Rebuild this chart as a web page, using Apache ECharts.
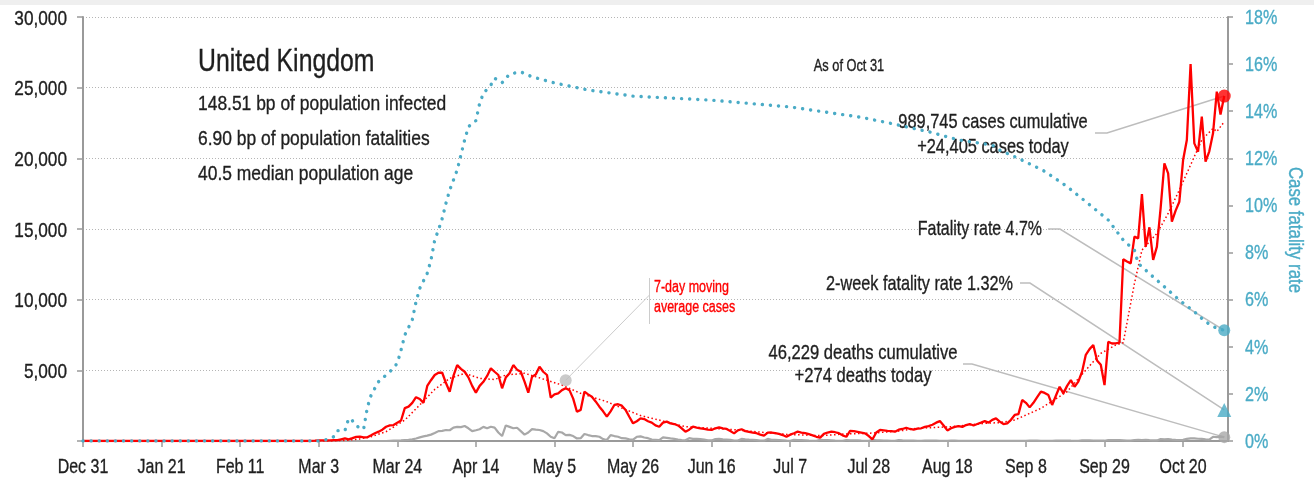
<!DOCTYPE html>
<html>
<head>
<meta charset="utf-8">
<script src="https://cdn.jsdelivr.net/npm/echarts@6/dist/echarts.min.js"></script>
<style>
    html, body { margin: 0; padding: 0; background: #fff; }
    #chart { width: 1314px; height: 482px; }
</style>
</head>
<body>
<div id="chart"></div>
<script>
    // day 0 = Dec 31, 2019 ... day 305 = Oct 31, 2020
    const monthNames = ['Jan', 'Feb', 'Mar', 'Apr', 'May', 'Jun', 'Jul', 'Aug', 'Sep', 'Oct', 'Nov', 'Dec'];
    const dayLabels = [];
    for (let i = 0; i <= 306; i++) {
        let d = new Date(2019, 11, 31 + i);
        dayLabels.push(monthNames[d.getMonth()] + ' ' + d.getDate());
    }
    const xTickDays = [0, 21, 42, 63, 84, 105, 126, 147, 168, 189, 210, 231, 252, 273, 294];
    const leftTicks = [5000, 10000, 15000, 20000, 25000, 30000];
    const rightTicks = [0, 2, 4, 6, 8, 10, 12, 14, 16, 18];

    const dailyCases = [
        0, 0, 0, 0, 0, 0, 0, 0, 0, 0,
        0, 0, 0, 0, 0, 0, 0, 0, 0, 0,
        0, 0, 0, 0, 0, 0, 0, 0, 0, 0,
        0, 0, 0, 0, 0, 0, 0, 0, 0, 0,
        0, 0, 0, 0, 0, 0, 0, 0, 0, 0,
        0, 0, 0, 0, 0, 0, 0, 0, 0, 0,
        0, 10, 20, 50, 50, 40, 50, 60, 60, 120,
        180, 120, 200, 290, 310, 250, 260, 400, 550, 660,
        800, 1010, 1100, 1130, 1300, 1450, 2330, 2430, 2700, 3100,
        2970, 2700, 3900, 4300, 4670, 4830, 4830, 4100, 3490, 4600,
        5370, 5100, 4900, 4500, 3900, 3420, 3900, 4190, 4600, 5140,
        4900, 4670, 3730, 4500, 4790, 5370, 5050, 4900, 4200, 3420,
        4550, 4700, 5260, 4900, 4670, 3070, 3300, 3370, 3600, 3730,
        3600, 3000, 2070, 2200, 3490, 3300, 3130, 2800, 2430, 2100,
        1720, 2100, 2550, 2600, 2500, 2200, 1720, 1250, 1400, 1600,
        1550, 1400, 1300, 1100, 1010, 1300, 1370, 1250, 1200, 1100,
        900, 660, 800, 1010, 950, 900, 850, 800, 780, 900,
        970, 900, 850, 700, 540, 750, 830, 700, 650, 600,
        550, 450, 380, 590, 600, 560, 500, 420, 300, 450,
        550, 660, 600, 550, 480, 400, 300, 240, 500, 600,
        660, 620, 550, 400, 300, 710, 700, 650, 600, 540,
        350, 120, 600, 780, 750, 720, 700, 660, 800, 850,
        940, 850, 800, 880, 900, 1000, 1050, 1150, 1300, 1410,
        1100, 750, 900, 1000, 1050, 1000, 1130, 1200, 1100, 1200,
        1300, 1410, 1300, 1500, 1600, 1370, 1200, 1250, 1500, 1840,
        1900, 2900, 2700, 2380, 2700, 3100, 3490, 3400, 3250, 2550,
        3200, 3840, 3370, 3900, 4310, 3840, 4200, 4900, 6100, 6500,
        6790, 5700, 5400, 3960, 7020, 6900, 6910, 6960, 12860, 12700,
        12570, 14460, 14340, 17470, 13750, 15120, 12810, 13750, 16500, 19650,
        18940, 15520, 16300, 16930, 19880, 21300, 26670, 21060, 20470, 22950,
        19760, 20500, 21770, 24720, 23100, 24405
    ];

    const dailyDeaths = [
        0, 0, 0, 0, 0, 0, 0, 0, 0, 0,
        0, 0, 0, 0, 0, 0, 0, 0, 0, 0,
        0, 0, 0, 0, 0, 0, 0, 0, 0, 0,
        0, 0, 0, 0, 0, 0, 0, 0, 0, 0,
        0, 0, 0, 0, 0, 0, 0, 0, 0, 0,
        0, 0, 0, 0, 0, 0, 0, 0, 0, 0,
        0, 0, 0, 0, 0, 0, 0, 0, 0, 0,
        0, 0, 0, 0, 0, 0, 0, 0, 0, 0,
        0, 0, 10, 20, 30, 40, 60, 80, 120, 180,
        260, 330, 380, 450, 560, 700, 720, 780, 760, 950,
        1000, 980, 1060, 900, 700, 760, 830, 1000, 900, 1010,
        950, 600, 350, 1100, 1000, 900, 940, 700, 450, 600,
        840, 800, 780, 700, 540, 300, 190, 650, 600, 420,
        430, 350, 180, 200, 500, 420, 350, 350, 300, 130,
        70, 420, 350, 300, 200, 190, 120, 100, 300, 330,
        250, 200, 100, 80, 60, 250, 220, 180, 150, 100,
        60, 50, 200, 150, 150, 130, 100, 50, 40, 130,
        150, 120, 100, 80, 30, 30, 150, 120, 100, 90,
        60, 30, 20, 150, 80, 80, 70, 50, 20, 10,
        80, 70, 60, 50, 20, 10, 10, 80, 60, 60,
        50, 20, 10, 10, 70, 50, 50, 40, 20, 10,
        10, 80, 40, 40, 30, 20, 10, 10, 60, 40,
        30, 20, 20, 10, 10, 30, 20, 20, 20, 10,
        5, 5, 20, 20, 10, 10, 10, 5, 5, 10,
        15, 10, 10, 5, 5, 5, 10, 10, 15, 10,
        10, 5, 5, 20, 20, 20, 15, 10, 10, 10,
        30, 30, 25, 30, 20, 15, 15, 40, 40, 40,
        35, 30, 20, 20, 70, 60, 70, 60, 40, 20,
        30, 70, 80, 70, 80, 60, 50, 40, 140, 120,
        130, 100, 80, 70, 80, 150, 190, 190, 160, 150,
        120, 100, 300, 280, 310, 274
    ];

    const movingAvg = [
        [0, 0], [66, 0], [70, 40], [74, 150], [77, 300], [81, 660], [86, 1480], [90, 2550],
        [94, 3650], [98, 4430], [102, 4790], [106, 4430], [110, 4350], [113, 4670], [118, 4790],
        [121, 4550], [128, 3960], [133, 3370], [140, 2780], [144, 2330], [149, 1800], [154, 1480],
        [161, 1010], [168, 900], [175, 780], [182, 600], [188, 470], [197, 380], [204, 500],
        [211, 560], [218, 700], [223, 900], [232, 1010], [241, 1250], [245, 1300], [249, 1480],
        [256, 2310], [263, 3490], [268, 5020], [272, 6200], [276, 6790], [278, 6950], [281, 11150],
        [283, 13510], [287, 14690], [290, 16100], [293, 17760], [297, 20120], [299, 21300],
        [302, 22120], [303, 21890], [305, 22590]
    ];

    // [day, case fatality rate %]
    const fatalityRate = [
        [0, 0], [64, 0], [67, 0.18], [68, 0.44], [70, 0.44], [71, 0.96], [72, 0.86], [73, 0.64],
        [75, 0.5], [76, 1.43], [77, 1.95], [78, 2.24], [79, 2.52], [82, 2.94], [84, 3.3], [85, 3.86],
        [86, 4.5], [88, 5.14], [89, 5.91], [90, 6.48], [92, 7.12], [93, 7.68], [94, 8.53], [95, 8.96],
        [96, 9.45], [97, 10.09], [98, 10.65], [100, 11.5], [101, 12.14], [102, 12.78], [103, 13.34],
        [105, 13.6], [106, 14.33], [107, 14.76], [109, 15.11], [110, 15.4], [112, 15.21], [114, 15.58],
        [117, 15.67], [120, 15.46], [126, 15.2], [135, 14.9], [147, 14.64], [168, 14.47], [189, 14.18],
        [208, 13.74], [216, 13.48], [226, 13.13], [234, 12.78], [243, 12.56], [245, 12.35], [250, 12.0],
        [257, 11.45], [263, 10.8], [268, 10.16], [274, 9.38], [278, 8.53], [281, 8.1], [282, 7.54],
        [286, 6.97], [290, 6.41], [293, 5.98], [297, 5.49], [300, 5.06], [303, 4.78], [305, 4.7]
    ];

    const lastDay = 305;
    const casesToday = 24405;
    const deathsToday = 274;
    const fatalityNow = 4.7;
    const twoWeekFatality = 1.32;
    const avgNote = [129, 4300];

    // narrow grotesque look: Liberation Sans squeezed horizontally
    const font = "'Liberation Sans', Arial, sans-serif";
    const ink = '#1e1e1e';
    const blue = '#4aabc6';
    const red = '#ff0000';
    const axisGray = '#9a9a9a';
    const leadGray = '#bdbdbd';

    let myChart = echarts.init(document.getElementById('chart'));
    myChart.setOption({
        animation: false,
        backgroundColor: '#fff',
        grid: { left: 83, right: 86, top: 17, bottom: 41 },
        xAxis: {
            type: 'category',
            data: dayLabels,
            boundaryGap: false,
            axisLine: { lineStyle: { color: axisGray, width: 2 } },
            axisTick: { interval: 20, length: 6, lineStyle: { color: axisGray, width: 1.5 } },
            axisLabel: { show: false },
            splitLine: { show: false }
        },
        yAxis: [{
            type: 'value',
            min: 0, max: 30000, interval: 5000,
            axisLine: { show: true, lineStyle: { color: axisGray, width: 2 } },
            axisTick: { show: true, length: 6, lineStyle: { color: axisGray, width: 1.5 } },
            axisLabel: { show: false },
            splitLine: { lineStyle: { color: '#b5b5b5', width: 1, type: [1, 2] } }
        }, {
            type: 'value',
            min: 0, max: 18, interval: 2,
            position: 'right',
            axisLine: { show: true, lineStyle: { color: axisGray, width: 2 } },
            axisTick: { show: true, length: 5, lineStyle: { color: axisGray, width: 1.5 } },
            axisLabel: { show: false },
            splitLine: { show: false }
        }],
        series: [{
            name: 'deaths',
            type: 'line',
            data: dailyDeaths,
            showSymbol: false,
            lineStyle: { color: '#a8a8a8', width: 2.2 },
            z: 2
        }, {
            name: '7-day moving average cases',
            type: 'line',
            data: movingAvg,
            showSymbol: false,
            lineStyle: { color: red, width: 1.5, type: [1.5, 2.5] },
            z: 3
        }, {
            name: 'cases',
            type: 'line',
            data: dailyCases,
            showSymbol: false,
            lineStyle: { color: red, width: 2.3 },
            z: 3
        }, {
            name: 'Case fatality rate',
            type: 'line',
            yAxisIndex: 1,
            data: fatalityRate,
            showSymbol: false,
            lineStyle: { color: blue, width: 3.4, type: [0.1, 8], cap: 'round' },
            z: 4
        }, {
            type: 'scatter',
            data: [[lastDay, casesToday]],
            symbol: 'circle', symbolSize: 13,
            itemStyle: { color: red },
            z: 6
        }, {
            type: 'scatter',
            data: [[lastDay, deathsToday]],
            symbol: 'circle', symbolSize: 12,
            itemStyle: { color: '#a8a8a8' },
            z: 6
        }, {
            type: 'scatter',
            yAxisIndex: 1,
            data: [[lastDay, fatalityNow]],
            symbol: 'circle', symbolSize: 12,
            itemStyle: { color: blue },
            z: 6
        }, {
            type: 'scatter',
            yAxisIndex: 1,
            data: [[lastDay, twoWeekFatality]],
            symbol: 'triangle', symbolSize: 14,
            itemStyle: { color: blue },
            z: 6
        }, {
            type: 'scatter',
            data: [avgNote],
            symbol: 'circle', symbolSize: 12,
            itemStyle: { color: '#bdbdbd' },
            z: 6
        }]
    });

    function px(yAxisIndex, point) {
        return myChart.convertToPixel({ xAxisIndex: 0, yAxisIndex: yAxisIndex }, point);
    }
    let pCases = px(0, [lastDay, casesToday]);
    let pDeaths = px(0, [lastDay, deathsToday]);
    let pRate = px(1, [lastDay, fatalityNow]);
    let pTwoWeek = px(1, [lastDay, twoWeekFatality]);
    let pNote = px(0, avgNote);

    function label(x, y, text, size, align, color, squeeze, rotation) {
        return {
            type: 'text', x: x, y: y, silent: true,
            scaleX: squeeze || 0.78,
            rotation: rotation || 0,
            style: {
                text: text, fontSize: size, fontFamily: font, fill: color || ink,
                stroke: color || ink, lineWidth: 0.35,
                align: align || 'left', verticalAlign: 'middle'
            }
        }
    }
    function leader(points, color, width) {
        return {
            type: 'polyline', silent: true,
            shape: { points: points },
            style: { stroke: color || leadGray, lineWidth: width || 1.5, fill: null }
        }
    }

    let axisTexts = [];
    xTickDays.forEach(d => {
        let p = px(0, [d, 0]);
        axisTexts.push(label(p[0], 467, dayLabels[d], 21, 'center', ink, 0.76));
    });
    leftTicks.forEach(v => {
        let p = px(0, [0, v]);
        axisTexts.push(label(p[0] - 16, p[1] + 2, v.toLocaleString('en-US'), 21, 'right', ink, 0.82));
    });
    rightTicks.forEach(v => {
        let p = px(1, [lastDay, v]);
        axisTexts.push(label(1245, p[1] + 1, v + '%', 21, 'left', blue, 0.77));
    });

    myChart.setOption({
        graphic: [
            { type: 'rect', shape: { x: 0, y: 0, width: 1314, height: 5 }, style: { fill: '#efefef' } },
            label(198, 62, 'United Kingdom', 31, 'left', ink, 0.8),
            label(198, 104, '148.51 bp of population infected', 21, 'left', ink, 0.83),
            label(198, 139, '6.90 bp of population fatalities', 21, 'left', ink, 0.83),
            label(198, 174, '40.5 median population age', 21, 'left', ink, 0.83),
            label(849, 67, 'As of Oct 31', 16, 'center', ink, 0.8),
            label(993, 122, '989,745 cases cumulative', 21, 'center'),
            label(993, 147, '+24,405 cases today', 21, 'center'),
            label(1042, 229, 'Fatality rate 4.7%', 21, 'right', ink, 0.76),
            label(1013, 284, '2-week fatality rate 1.32%', 21, 'right', ink, 0.774),
            label(863, 353, '46,229 deaths cumulative', 21, 'center', ink, 0.79),
            label(863, 376, '+274 deaths today', 21, 'center', ink, 0.79),
            label(654, 288, '7-day moving', 16, 'left', red, 0.78),
            label(654, 308, 'average cases', 16, 'left', red, 0.78),
            label(1295, 230, 'Case fatality rate', 21, 'center', blue, 0.8, -Math.PI / 2),
            leader([[649.5, 278], [649.5, 324]], '#cccccc', 1),
            leader([pNote, [649.5, 295]], '#cccccc', 1),
            leader([[1095, 133], [1107, 133], pCases]),
            leader([[1048, 229], [1060, 229], pRate]),
            leader([[1020, 283], [1030, 283], pTwoWeek]),
            leader([[963, 364], [972, 364], pDeaths])
        ].concat(axisTexts)
    });
</script>
</body>
</html>
